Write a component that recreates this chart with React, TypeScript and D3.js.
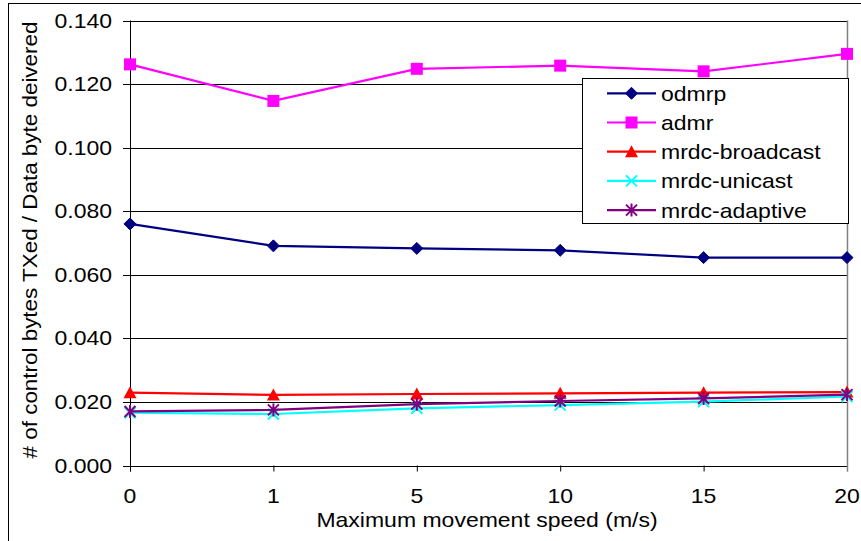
import React from 'react';
import * as d3 from 'd3';

const categories = ['0', '1', '5', '10', '15', '20'];
const odmrp = [0.076, 0.0691, 0.0683, 0.0677, 0.0654, 0.0654];
const admr = [0.1262, 0.1147, 0.1248, 0.1258, 0.124, 0.1295];
const mrdcBroadcast = [0.0229, 0.0222, 0.0225, 0.0227, 0.0229, 0.0231];
const mrdcUnicast = [0.0166, 0.0162, 0.018, 0.019, 0.0201, 0.0217];
const mrdcAdaptive = [0.017, 0.0175, 0.0193, 0.0203, 0.0211, 0.0223];
const yTicks = [0, 0.02, 0.04, 0.06, 0.08, 0.1, 0.12, 0.14];

const seriesNames = ['odmrp', 'admr', 'mrdc-broadcast', 'mrdc-unicast', 'mrdc-adaptive'];
const seriesData = [odmrp, admr, mrdcBroadcast, mrdcUnicast, mrdcAdaptive];
const seriesColors = ['#000080', '#FF00FF', '#FF0000', '#00FFFF', '#800080'];
const seriesMarkers = ['diamond', 'square', 'triangle', 'x', 'asterisk'];

const W = 861;
const H = 541;
const left = 130;
const right = 847;
const top = 20.5;
const bottom = 465.5;
const FONT = '"Liberation Sans", Arial, sans-serif';
const SX = 1.15;

function Marker({ type, x, y, color }: { type: string; x: number; y: number; color: string }) {
  if (type === 'diamond') {
    const s = 6;
    return <path d={`M${x},${y - s}L${x + s},${y}L${x},${y + s}L${x - s},${y}Z`} fill={color} stroke={color} strokeWidth={1} />;
  }
  if (type === 'square') {
    const s = 6;
    return <rect x={x - s} y={y - s} width={2 * s} height={2 * s} fill={color} />;
  }
  if (type === 'triangle') {
    const s = 6.5;
    return <path d={`M${x},${y - s}L${x + s},${y + s * 0.85}L${x - s},${y + s * 0.85}Z`} fill={color} />;
  }
  if (type === 'x') {
    const s = 5.5;
    return <path d={`M${x - s},${y - s}L${x + s},${y + s}M${x - s},${y + s}L${x + s},${y - s}`} stroke={color} strokeWidth={2} fill="none" />;
  }
  const s = 5.5;
  return (
    <path
      d={`M${x - s},${y - s}L${x + s},${y + s}M${x - s},${y + s}L${x + s},${y - s}M${x},${y - s - 1}L${x},${y + s + 1}`}
      stroke={color}
      strokeWidth={2}
      fill="none"
    />
  );
}

export default function App() {
  const x = d3.scalePoint<string>().domain(categories).range([left, right]);
  const y = d3.scaleLinear().domain([0, 0.14]).range([bottom, top]);
  const line = d3
    .line<number>()
    .x((_, i) => x(categories[i]) as number)
    .y((d) => y(d));

  const legendX = 582;
  const legendY = 78;
  const legendW = 266;
  const legendH = 145;
  const legendStep = 29.2;

  return (
    <svg width={W} height={H} style={{ position: 'absolute', left: 0, top: 0, background: '#fff' }} fontFamily={FONT}>
      <rect x={0} y={0} width={W} height={H} fill="#fff" />
      <rect x={8.5} y={3.5} width={880} height={580} fill="none" stroke="#000" strokeWidth={1} />

      {/* gridlines */}
      {yTicks.map((t) => (
        <line key={'g' + t} x1={left} x2={right} y1={Math.round(y(t)) + 0.5} y2={Math.round(y(t)) + 0.5} stroke="#000" strokeWidth={1} />
      ))}
      {/* right border */}
      <line x1={right + 0.5} x2={right + 0.5} y1={top} y2={bottom + 6} stroke="#808080" strokeWidth={1.5} />
      {/* y axis */}
      <line x1={left + 0.5} x2={left + 0.5} y1={top} y2={bottom + 6} stroke="#000" strokeWidth={1} />
      {yTicks.map((t) => (
        <g key={'yt' + t}>
          <line x1={left - 7} x2={left} y1={Math.round(y(t)) + 0.5} y2={Math.round(y(t)) + 0.5} stroke="#000" />
          <text
            transform={`translate(${112},${y(t) + 7}) scale(${SX},1)`}
            textAnchor="end"
            fontSize={20}
            fill="#000"
          >
            {d3.format('.3f')(t)}
          </text>
        </g>
      ))}
      {/* x ticks */}
      {categories.map((c) => (
        <g key={'xt' + c}>
          <line x1={(x(c) as number) + 0.5} x2={(x(c) as number) + 0.5} y1={bottom} y2={bottom + 6} stroke={c === '20' ? '#808080' : '#000'} />
          <text transform={`translate(${x(c)},${503}) scale(${SX},1)`} textAnchor="middle" fontSize={20} fill="#000">
            {c}
          </text>
        </g>
      ))}

      {/* axis titles */}
      <text transform={`translate(${487},${527}) scale(${SX},1)`} textAnchor="middle" fontSize={20} fill="#000">
        Maximum movement speed (m/s)
      </text>
      <text transform={`translate(${37},${240}) rotate(-90) scale(${SX},1)`} textAnchor="middle" fontSize={19.5} fill="#000">
        # of control bytes TXed / Data byte deivered
      </text>

      {/* series */}
      {seriesData.map((data, si) => (
        <g key={seriesNames[si]}>
          <path d={line(data) as string} fill="none" stroke={seriesColors[si]} strokeWidth={2.2} />
          {data.map((v, i) => (
            <Marker key={i} type={seriesMarkers[si]} x={x(categories[i]) as number} y={y(v)} color={seriesColors[si]} />
          ))}
        </g>
      ))}

      {/* legend */}
      <rect x={legendX + 0.5} y={legendY + 0.5} width={legendW} height={legendH} fill="#fff" stroke="#000" strokeWidth={1} />
      {seriesNames.map((n, si) => {
        const cy = legendY + 15.3 + si * legendStep;
        return (
          <g key={'lg' + n}>
            <line x1={607} x2={656} y1={cy} y2={cy} stroke={seriesColors[si]} strokeWidth={2.2} />
            <Marker type={seriesMarkers[si]} x={631.5} y={cy} color={seriesColors[si]} />
            <text transform={`translate(${661},${cy + 7.5}) scale(${SX},1)`} fontSize={20} fill="#000">
              {n}
            </text>
          </g>
        );
      })}
    </svg>
  );
}
